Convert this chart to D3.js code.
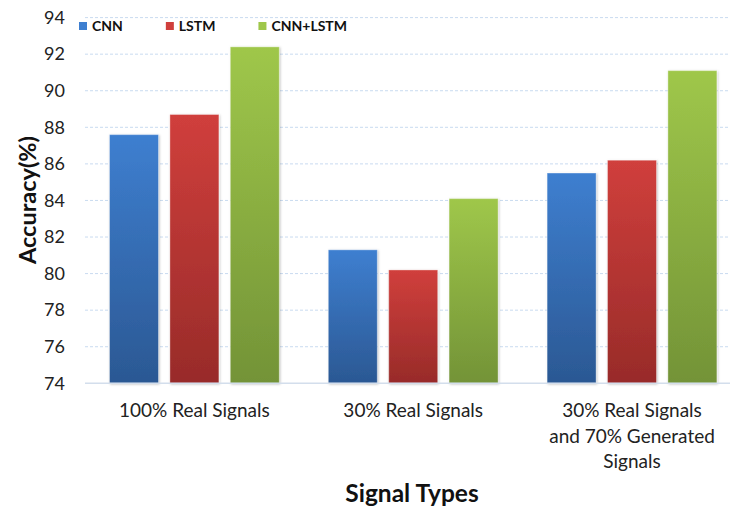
<!DOCTYPE html>
<html>
<head>
<meta charset="utf-8">
<script src="https://cdn.jsdelivr.net/npm/d3@7"></script>
<style>
  html, body { margin: 0; padding: 0; background: #fff; }
  svg { display: block; }
</style>
</head>
<body>
<svg id="chart" width="730" height="507"></svg>
<script>
// Accuracy (%) of each model for three training-signal mixes
const categories = ["100% Real Signals", "30% Real Signals", "30% Real Signals\nand 70% Generated\nSignals"];
const seriesNames = ["CNN", "LSTM", "CNN+LSTM"];
const cnn = [87.6, 81.3, 85.5];
const lstm = [88.7, 80.2, 86.2];
const cnnLstm = [92.4, 84.1, 91.1];
const yTicks = [74, 76, 78, 80, 82, 84, 86, 88, 90, 92, 94];

const seriesValues = [cnn, lstm, cnnLstm];
const palette = [
  { top: "#3e7fd0", bottom: "#2b5893" },
  { top: "#d03f3c", bottom: "#982b29" },
  { top: "#9fc74a", bottom: "#739337" }
];

const svg = d3.select("#chart");
const margin = { left: 85, top: 17.6, bottom: 383.3 };
const plotRight = 741.4;

const x = d3.scaleBand().domain(categories).range([margin.left, plotRight]).paddingInner(0).paddingOuter(0);
const xs = d3.scaleBand().domain(seriesNames).range([0, x.bandwidth()]).paddingInner(0.189).paddingOuter(0.406);
const y = d3.scaleLinear().domain([74, 94]).range([margin.bottom, margin.top]);

// gradients and shadow
const defs = svg.append("defs");
palette.forEach((c, i) => {
  const g = defs.append("linearGradient").attr("id", "grad" + i)
    .attr("x1", 0).attr("y1", 0).attr("x2", 0).attr("y2", 1);
  g.append("stop").attr("offset", "0%").attr("stop-color", c.top);
  g.append("stop").attr("offset", "100%").attr("stop-color", c.bottom);
});
const f = defs.append("filter").attr("id", "shadow").attr("x", "-20%").attr("y", "-20%").attr("width", "140%").attr("height", "140%");
f.append("feDropShadow").attr("dx", 0.8).attr("dy", 0.8).attr("stdDeviation", 1).attr("flood-color", "#000").attr("flood-opacity", 0.25);

// gridlines
svg.append("g").selectAll("line")
  .data(yTicks.filter(t => t !== 74))
  .join("line")
  .attr("x1", margin.left).attr("x2", plotRight)
  .attr("y1", d => y(d)).attr("y2", d => y(d))
  .attr("stroke", "#c9dbf0").attr("stroke-width", 1)
  .attr("stroke-dasharray", "3,2");

// y axis labels
const yAxis = d3.axisLeft(y).tickValues(yTicks).tickSize(0).tickPadding(20);
const yg = svg.append("g").attr("transform", `translate(${margin.left},0)`).call(yAxis);
yg.select(".domain").remove();
yg.selectAll("text")
  .attr("font-family", "Lato, sans-serif").attr("font-size", 18).attr("fill", "#222");

// bars
const groups = svg.append("g").selectAll("g")
  .data(seriesNames)
  .join("g")
  .attr("fill", (d, i) => `url(#grad${i})`);

groups.selectAll("rect")
  .data((s, i) => categories.map((c, j) => ({ cat: c, series: s, value: seriesValues[i][j], si: i })))
  .join("rect")
  .attr("x", d => x(d.cat) + xs(d.series))
  .attr("width", xs.bandwidth())
  .attr("y", d => y(d.value))
  .attr("height", d => y(74) - y(d.value))
  .attr("stroke", "rgba(255,255,255,0.35)")
  .attr("stroke-width", 1)
  .attr("filter", "url(#shadow)");

// baseline
svg.append("line")
  .attr("x1", margin.left).attr("x2", plotRight)
  .attr("y1", y(74)).attr("y2", y(74))
  .attr("stroke", "#d3deec").attr("stroke-width", 1.5);

// x axis labels
const xAxis = d3.axisBottom(x).tickSize(0).tickPadding(0).tickFormat("");
const xg = svg.append("g").attr("transform", `translate(0,${y(74)})`).call(xAxis);
xg.select(".domain").remove();
xg.selectAll(".tick").each(function (d) {
  const t = d3.select(this).append("text")
    .attr("text-anchor", "middle")
    .attr("font-family", "Lato, sans-serif").attr("font-size", 19).attr("fill", "#222");
  d.split("\n").forEach((line, k) => {
    t.append("tspan").attr("x", 0).attr("y", 34 + k * 25.5).text(line);
  });
});

// axis titles
svg.append("text")
  .attr("transform", `translate(36,200) rotate(-90)`)
  .attr("text-anchor", "middle")
  .attr("font-family", "Lato, sans-serif").attr("font-weight", "bold").attr("font-size", 23.5)
  .attr("fill", "#111").text("Accuracy(%)");

svg.append("text")
  .attr("x", 412).attr("y", 502)
  .attr("text-anchor", "middle")
  .attr("font-family", "Lato, sans-serif").attr("font-weight", "bold").attr("font-size", 24.5)
  .attr("fill", "#111").text("Signal Types");

// legend
const legend = svg.append("g").attr("transform", "translate(79,0)");
let lx = 0;
seriesNames.forEach((name, i) => {
  const item = legend.append("g").attr("transform", `translate(${lx},0)`);
  item.append("rect").attr("x", 0).attr("y", 22).attr("width", 8).attr("height", 8)
    .attr("fill", palette[i].top);
  const label = item.append("text").attr("x", 13).attr("y", 31)
    .attr("font-family", "Lato, sans-serif").attr("font-weight", "bold").attr("font-size", 14)
    .attr("fill", "#111").text(name);
  lx += 13 + label.node().getComputedTextLength() + 43;
});
</script>
</body>
</html>
